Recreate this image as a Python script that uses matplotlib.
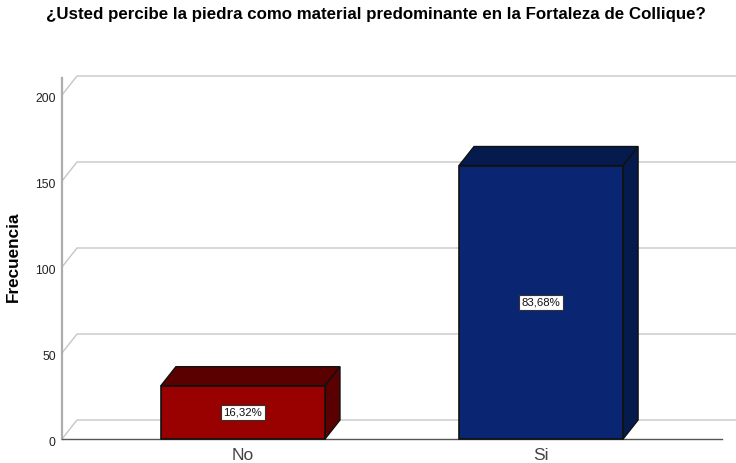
import matplotlib
matplotlib.use("Agg")
import matplotlib.pyplot as plt
from matplotlib.transforms import ScaledTranslation

categories = ["No", "Si"]
values = [31, 159]
pct_labels = ["16,32%", "83,68%"]
y_ticks = [0, 50, 100, 150, 200]
title = "¿Usted percibe la piedra como material predominante en la Fortaleza de Collique?"
ylabel = "Frecuencia"

front_colors = ["#990000", "#0A2672"]
dark_colors = ["#5A0000", "#051A4D"]

W, H = 736, 463
plt.rcParams["font.family"] = ["Liberation Sans", "DejaVu Sans"]
fig = plt.figure(figsize=(W / 100, H / 100), dpi=100, facecolor="white")
x0, x1, y0, y1 = 62, 722, 439, 95
ax = fig.add_axes([x0 / W, 1 - y0 / H, (x1 - x0) / W, (y0 - y1) / H])
ax.set_xlim(-0.607, 1.607)
ax.set_ylim(0, 200)
for s in ax.spines.values():
    s.set_visible(False)
ax.patch.set_visible(False)

dx = 15 / 298
dy = 19 / 1.72
bw = 164 / 298
left = -0.607
xmax_ext = 1.66

# gridlines with depth
for t in y_ticks:
    ax.plot([left, left + dx, xmax_ext], [t, t + dy, t + dy], color="#C6C6C6", lw=1.0,
            clip_on=False, zorder=1, solid_joinstyle="miter")

# axes lines
ax.plot([left, left], [0, 210], color="#ADADAD", lw=1.6, clip_on=False, zorder=2)
ax.plot([left, 1.607], [0, 0], color="#555555", lw=1.0, clip_on=False, zorder=2)

# bars
for i, v in enumerate(values):
    l, r = i - bw / 2, i + bw / 2
    ax.fill([l, l + dx, r + dx, r], [v, v + dy, v + dy, v], facecolor=dark_colors[i],
            edgecolor="#111111", lw=1.0, zorder=3, clip_on=False)
    ax.fill([r, r + dx, r + dx, r], [0, dy, v + dy, v], facecolor=dark_colors[i],
            edgecolor="#111111", lw=1.0, zorder=3, clip_on=False)
    ax.bar(i, v, width=bw, color=front_colors[i], edgecolor="#111111", lw=1.2, zorder=4, clip_on=False)
    ax.text(i, v / 2, pct_labels[i], ha="center", va="center", fontsize=8.2, color="#111111", zorder=5,
            bbox=dict(boxstyle="square,pad=0.24", facecolor="white", edgecolor="#333333", lw=0.8))

ax.set_xticks([0, 1], categories, fontsize=12.6, color="#444444")
ax.set_yticks(y_ticks, [str(t) for t in y_ticks], fontsize=8.8, color="#222222")
ax.tick_params(axis="both", length=0)
ax.tick_params(axis="y", pad=4.5)
ax.tick_params(axis="x", pad=6.5)
shift = ScaledTranslation(0, -3 / 100, fig.dpi_scale_trans)
for lab in ax.get_yticklabels():
    lab.set_transform(lab.get_transform() + shift)

fig.text(375.5 / W, 1 - 14 / H, title, ha="center", va="center", fontsize=12.2, fontweight="bold", color="black")
fig.text(13 / W, 1 - 257 / H, ylabel, ha="center", va="center", rotation=90, fontsize=12.3, fontweight="bold", color="black")

fig.savefig("out.png", dpi=100)
